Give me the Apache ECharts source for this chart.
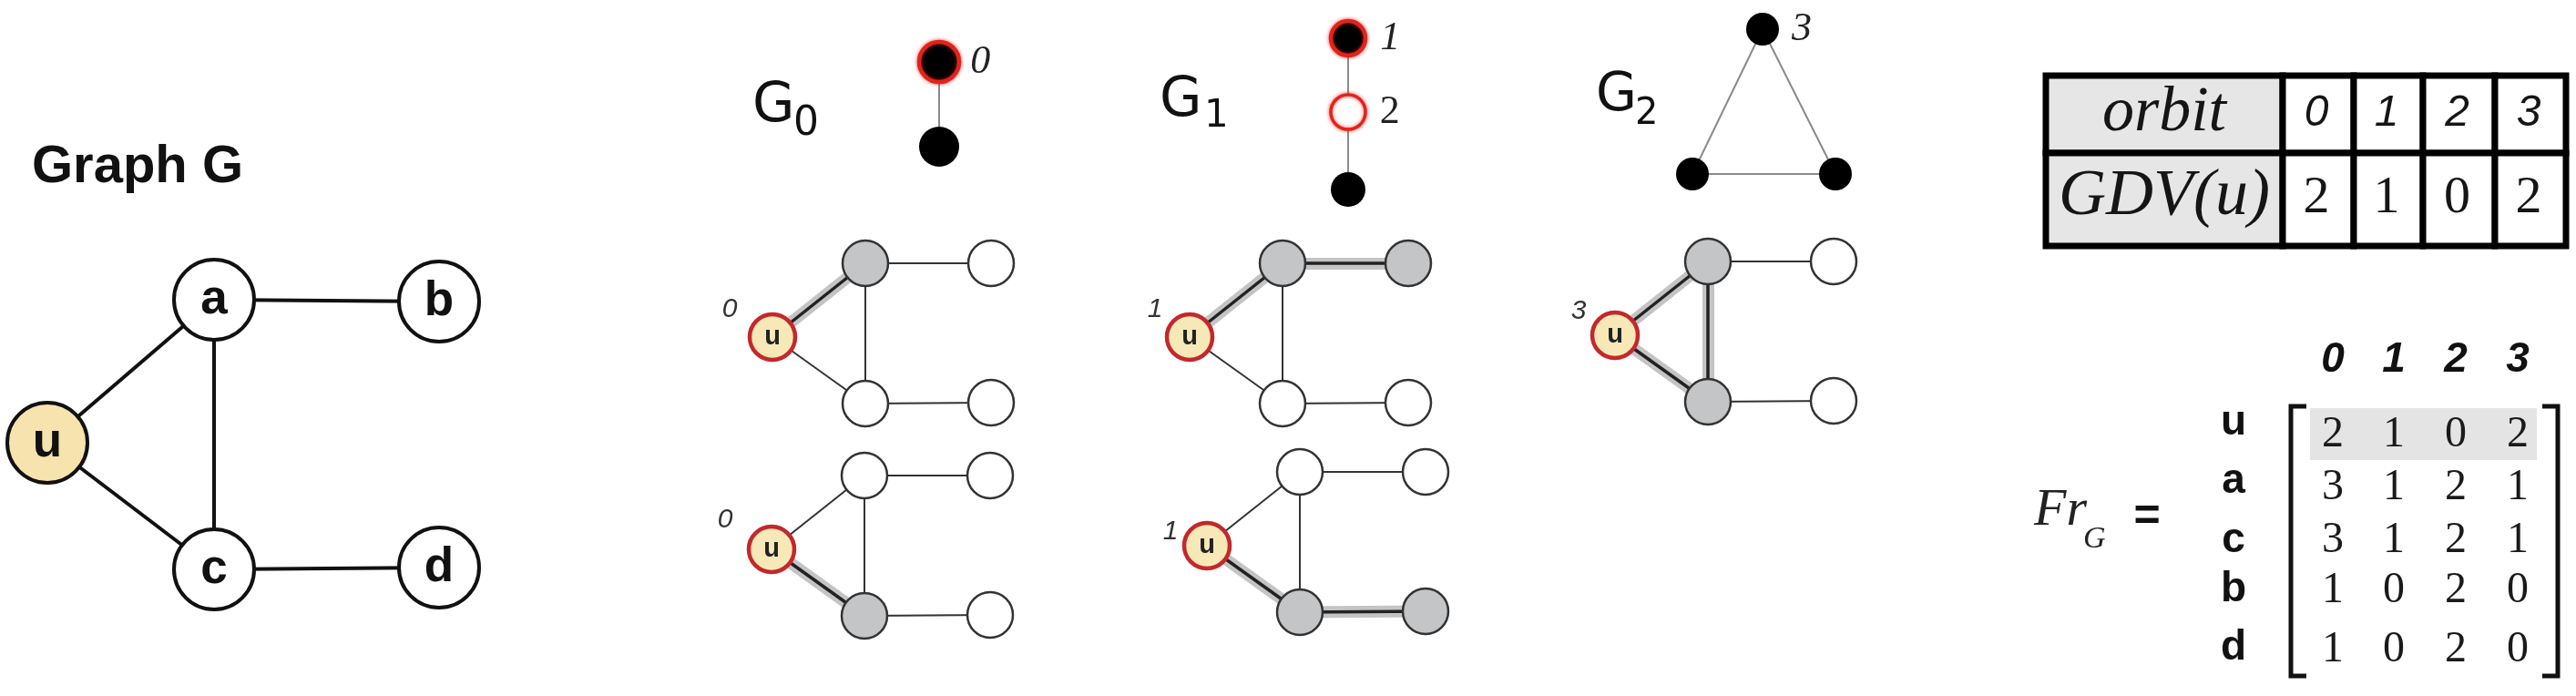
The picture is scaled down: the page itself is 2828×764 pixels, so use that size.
<!DOCTYPE html>
<html>
<head>
<meta charset="utf-8">
<title>Graph G, graphlets and orbit counts</title>
<script src="https://cdn.jsdelivr.net/npm/echarts@6.0.0/dist/echarts.min.js"></script>
<style>
html,body{margin:0;padding:0;background:#ffffff;}
#chart{width:2828px;height:764px;}
</style>
</head>
<body>
<div id="chart"></div>
<script>
// ================= DATA =================
const gNodes = ['u', 'a', 'b', 'c', 'd'];
const gEdges = [['u','a'], ['u','c'], ['a','c'], ['a','b'], ['c','d']];
const focusNode = 'u';
const graphTitle = 'Graph G';

const graphletSubs = ['0', '1', '2'];
const g0Orbits = ['0', ''];
const g0Edges = [[0, 1]];
const g0Ring = [0];
const g1Orbits = ['1', '2', ''];
const g1Edges = [[0, 1], [1, 2]];
const g1Ring = [0, 1];
const g1Hollow = [1];
const g2Orbits = ['3', '', ''];
const g2Edges = [[0, 1], [0, 2], [1, 2]];
const g2Ring = [];

const panelOrbit = ['0', '0', '1', '1', '3'];
const panelGray = [['a'], ['c'], ['a','b'], ['c','d'], ['a','c']];
const panelBold = [[['u','a']], [['u','c']], [['u','a'],['a','b']], [['u','c'],['c','d']], [['u','a'],['u','c'],['a','c']]];

const orbitIds = ['0', '1', '2', '3'];
const tableHeads = ['orbit', 'GDV(u)'];
const gdvU = [2, 1, 0, 2];

const frRows = ['u', 'a', 'c', 'b', 'd'];
const frValues = [[2,1,0,2], [3,1,2,1], [3,1,2,1], [1,0,2,0], [1,0,2,0]];
const highlightRow = 0;

// ================= LAYOUT (canvas units) =================
const W = 2828, H = 764;
const gPosX = [52, 235, 482, 235, 482];
const gPosY = [486, 329, 331, 625, 623];
const g0PosX = [1031, 1031], g0PosY = [68, 161];
const g1PosX = [1480, 1480, 1480], g1PosY = [42, 123, 208];
const g2PosX = [1935, 1858, 2015], g2PosY = [32, 191, 191];
const panelUX = [848, 847, 1306, 1325, 1773];
const panelUY = [370, 603, 370, 599, 368];
const panelRelX = {u: 0, a: 102, b: 240, c: 102, d: 240};
const panelRelY = {u: 0, a: -81, b: -81, c: 73, d: 72};
const panelLabelDX = [-47, -51, -38, -40, -40];
const panelLabelDY = [-30, -32, -30, -15, -26];
const tColX = [2246, 2506, 2584, 2660, 2739, 2817];
const tRowY = [83, 168, 270];
const mColX = [2561, 2628, 2696, 2764];
const mRowY = [477, 535, 593, 648, 713];
const mLabelX = 2452;
const mLabelY = [464, 528, 593, 647, 711];
const mHeadY = 395;
const gTitleX = [826, 1273, 1752], gTitleY = [117, 111, 106];
const gTitleSize = [60, 60, 58];
const gSubX = [871, 1322, 1795], gSubY = [137, 128, 126];
const gSubSize = [44, 42, 40];

// ================= STYLES =================
const SANS = '"Liberation Sans", Arial, sans-serif';
const SERIF = '"Liberation Serif", "Times New Roman", serif';
const GFONT = '"DejaVu Sans", "Open Sans", sans-serif';
const U_FILL = '#F6E3AE';
const U_FILL2 = '#F7E8B8';
const RED = '#C4282C';
const GRAPHLET_RED = '#E2231A';
const GRAY_NODE = '#C3C5C7';

// ================= HELPERS =================
function textSeries(items, z) {
  return {
    type: 'custom', coordinateSystem: 'cartesian2d', silent: true, clip: false,
    animation: false, z: z || 10,
    data: items.map(it => [it.x, it.y]),
    renderItem: function (params, api) {
      const it = items[params.dataIndex];
      const p = api.coord([it.x, it.y]);
      const al = it.align || 'center';
      return {
        type: 'text', x: p[0], y: p[1],
        style: {
          text: it.text, font: it.font, fill: it.fill || '#111',
          align: al, verticalAlign: 'middle', textAlign: al, textVerticalAlign: 'middle'
        }
      };
    }
  };
}

const series = [];

// ---- Graph G ----
series.push({
  type: 'graph', coordinateSystem: 'cartesian2d', silent: true, animation: false, z: 3,
  data: gNodes.map((n, i) => ({
    name: n, value: [gPosX[i], gPosY[i]], symbol: 'circle', symbolSize: 88,
    itemStyle: {color: n === focusNode ? U_FILL : '#ffffff', borderColor: '#111', borderWidth: 4}
  })),
  links: gEdges.map(e => ({source: e[0], target: e[1]})),
  lineStyle: {color: '#111', width: 4, opacity: 1, curveness: 0},
  label: {show: true, position: 'inside', formatter: '{b}', fontFamily: SANS, fontWeight: 'bold', fontSize: 53, color: '#111'}
});

// ---- Graphlets ----
function graphletSeries(xs, ys, orbits, edges, ring, hollow, sz, labelDist) {
  return {
    type: 'graph', coordinateSystem: 'cartesian2d', silent: true, animation: false, z: 3,
    data: xs.map((x, i) => ({
      name: 'n' + i, value: [x, ys[i]], symbol: 'circle', symbolSize: sz,
      itemStyle: ring.includes(i)
        ? {color: hollow.includes(i) ? '#ffffff' : '#000', borderColor: GRAPHLET_RED, borderWidth: hollow.includes(i) ? 3.5 : 4.5,
           shadowBlur: 4, shadowColor: 'rgba(226,35,26,0.7)'}
        : {color: '#000', borderColor: '#000', borderWidth: 0},
      label: {
        show: orbits[i] !== '', formatter: orbits[i], position: 'right', distance: labelDist,
        fontFamily: SERIF, fontStyle: orbits[i] === '2' ? 'normal' : 'italic', fontSize: 44, color: '#222'
      }
    })),
    links: edges.map(e => ({source: 'n' + e[0], target: 'n' + e[1]})),
    lineStyle: {color: '#8a8a8a', width: 2, opacity: 1, curveness: 0}
  };
}
series.push(graphletSeries(g0PosX, g0PosY, g0Orbits, g0Edges, g0Ring, [], 44, 10));
series.push(graphletSeries(g1PosX, g1PosY, g1Orbits, g1Edges, g1Ring, g1Hollow, 38, 14));
series.push(graphletSeries(g2PosX, g2PosY, g2Orbits, g2Edges, g2Ring, [], 36, 14));

// ---- Orbit panels ----
panelOrbit.forEach((orb, k) => {
  const nodes = gNodes.map(n => ({
    name: n, value: [panelUX[k] + panelRelX[n], panelUY[k] + panelRelY[n]]
  }));
  const isBold = (e) => panelBold[k].some(b => (b[0] === e[0] && b[1] === e[1]) || (b[0] === e[1] && b[1] === e[0]));
  // glow under highlighted edges
  series.push({
    type: 'graph', coordinateSystem: 'cartesian2d', silent: true, animation: false, z: 2,
    data: nodes.map(n => ({name: n.name, value: n.value, symbolSize: 0})),
    links: panelBold[k].map(e => ({source: e[0], target: e[1]})),
    lineStyle: {color: '#c4c4c4', width: 13, opacity: 1, curveness: 0}
  });
  series.push({
    type: 'graph', coordinateSystem: 'cartesian2d', silent: true, animation: false, z: 3,
    data: nodes.map(n => ({
      name: n.name, value: n.value, symbol: 'circle', symbolSize: 50,
      itemStyle: n.name === focusNode
        ? {color: U_FILL2, borderColor: RED, borderWidth: 4.5}
        : {color: panelGray[k].includes(n.name) ? GRAY_NODE : '#ffffff', borderColor: '#333', borderWidth: 2.5},
      label: {show: n.name === focusNode}
    })),
    links: gEdges.map(e => ({
      source: e[0], target: e[1],
      lineStyle: isBold(e) ? {color: '#222', width: 3.5} : {color: '#333', width: 2}
    })),
    lineStyle: {opacity: 1, curveness: 0},
    label: {position: 'inside', formatter: '{b}', fontFamily: SANS, fontWeight: 'bold', fontSize: 29, color: '#222'}
  });
});

// ---- GDV table ----
const tableCells = [];
tableHeads.forEach((h, r) => {
  tableCells.push({c: 0, r: r, text: h});
  orbitIds.forEach((o, j) => tableCells.push({c: j + 1, r: r, text: r === 0 ? o : String(gdvU[j])}));
});
series.push({
  type: 'custom', coordinateSystem: 'cartesian2d', silent: true, clip: false, animation: false, z: 5,
  data: tableCells.map(t => [t.c, t.r]),
  renderItem: function (params, api) {
    const cell = tableCells[params.dataIndex];
    const a = api.coord([tColX[cell.c], tRowY[cell.r]]);
    const b = api.coord([tColX[cell.c + 1], tRowY[cell.r + 1]]);
    let font;
    if (cell.c === 0) font = 'italic ' + (cell.r === 0 ? 70 : 72) + 'px ' + SERIF;
    else if (cell.r === 0) font = 'italic 48px ' + SANS;
    else font = '58px ' + SERIF;
    const dy = (cell.c === 0 && cell.r === 1) ? -3 : -1;
    return {
      type: 'group', children: [
        {type: 'rect', shape: {x: a[0], y: a[1], width: b[0] - a[0], height: b[1] - a[1]},
         style: {fill: cell.c === 0 ? '#E6E6E6' : '#ffffff', stroke: '#000', lineWidth: 7}},
        {type: 'text', x: (a[0] + b[0]) / 2 - (cell.c === 0 ? 0 : 2), y: (a[1] + b[1]) / 2 + dy,
         style: {text: cell.text, font: font, fill: '#151515', align: 'center', verticalAlign: 'middle',
                 textAlign: 'center', textVerticalAlign: 'middle'}}
      ]
    };
  }
});

// ---- Text items ----
const texts = [];
texts.push({x: 35, y: 184, text: graphTitle, font: 'bold 58px ' + SANS, align: 'left'});
graphletSubs.forEach((s, i) => {
  texts.push({x: gTitleX[i], y: gTitleY[i], text: 'G', font: gTitleSize[i] + 'px ' + GFONT, align: 'left', fill: '#111'});
  texts.push({x: gSubX[i], y: gSubY[i], text: s, font: gSubSize[i] + 'px ' + GFONT, align: 'left', fill: '#111'});
});
panelOrbit.forEach((o, k) => {
  texts.push({x: panelUX[k] + panelLabelDX[k], y: panelUY[k] + panelLabelDY[k], text: o,
              font: 'italic 30px ' + SANS, fill: '#333'});
});
texts.push({x: 2233, y: 561, text: 'Fr', font: 'italic 58px ' + SERIF, align: 'left', fill: '#222'});
texts.push({x: 2287, y: 592, text: 'G', font: 'italic 34px ' + SERIF, align: 'left', fill: '#222'});
texts.push({x: 2357, y: 568, text: '=', font: 'bold 50px ' + SANS, fill: '#111'});
orbitIds.forEach((o, j) => texts.push({x: mColX[j], y: mHeadY, text: o, font: 'italic bold 46px ' + SANS}));
frRows.forEach((r, i) => texts.push({x: mLabelX, y: mLabelY[i], text: r, font: 'bold 46px ' + SANS}));
frValues.forEach((row, i) => row.forEach((v, j) =>
  texts.push({x: mColX[j], y: mRowY[i], text: String(v), font: '48px ' + SERIF, fill: '#1a1a1a'})));
series.push(textSeries(texts, 10));

// ---- Matrix decoration: highlighted row band and brackets ----
const bandY0 = mRowY[highlightRow] - 29, bandY1 = mRowY[highlightRow] + 28;
const bracketTop = 446, bracketBot = 742, bracketL = 2515, bracketR = 2808;

const option = {
  animation: false,
  backgroundColor: '#ffffff',
  grid: {left: 0, right: 0, top: 0, bottom: 0, containLabel: false},
  xAxis: {type: 'value', min: 0, max: W, show: false},
  yAxis: {type: 'value', min: 0, max: H, inverse: true, show: false},
  graphic: [
    {type: 'rect', z: 0, shape: {x: 2536, y: bandY0, width: 249, height: bandY1 - bandY0}, style: {fill: '#E4E4E4'}},
    {type: 'polyline', z: 1, shape: {points: [[bracketL + 17, bracketTop], [bracketL, bracketTop], [bracketL, bracketBot], [bracketL + 17, bracketBot]]},
     style: {stroke: '#111', lineWidth: 5, fill: null}},
    {type: 'polyline', z: 1, shape: {points: [[bracketR - 17, bracketTop], [bracketR, bracketTop], [bracketR, bracketBot], [bracketR - 17, bracketBot]]},
     style: {stroke: '#111', lineWidth: 5, fill: null}}
  ],
  series: series
};

const chart = echarts.init(document.getElementById('chart'));
chart.setOption(option);
</script>
</body>
</html>
